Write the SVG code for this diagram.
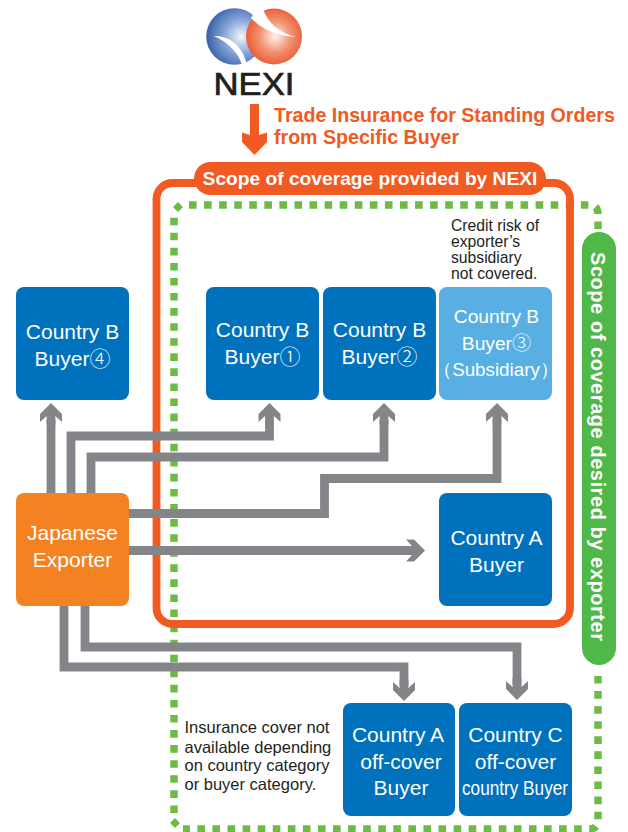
<svg xmlns="http://www.w3.org/2000/svg" width="628" height="832" viewBox="0 0 628 832">
<style>
text{font-family:"Liberation Sans",Arial,sans-serif}
.box{fill:#0071bc}
.t{fill:#fff;font-size:21px;text-anchor:middle}
.s{font-size:19.200px}
.c{font-family:"Noto Sans CJK JP","Liberation Sans",sans-serif;font-weight:300}
.g{fill:none;stroke:#848589;stroke-width:8.800}
.h{fill:#848589}
.n{fill:#231f20;font-size:16.500px}
.m{fill:#231f20;font-size:15.700px}
.o{fill:#f15a22;font-size:19.600px;font-weight:bold}
.d{fill:none;stroke:#6cbb45;stroke-width:7.500;stroke-dasharray:7.600 7.470}
</style>
<defs>
<radialGradient id="bl" cx="0.62" cy="0.5" r="0.6"><stop offset="0" stop-color="#f4f6fb"/><stop offset="0.55" stop-color="#7f9fd6"/><stop offset="1" stop-color="#3d64ab"/></radialGradient>
<radialGradient id="rd" cx="0.52" cy="0.5" r="0.58"><stop offset="0" stop-color="#fff3ec"/><stop offset="0.5" stop-color="#f2906e"/><stop offset="1" stop-color="#e8502a"/></radialGradient>
<path id="ah" class="h" d="M0 0L11 11V19L4.400 13V22H-4.400V13L-11 19V11Z"/>
</defs>
<g id="logo">
<circle cx="234.500" cy="36.500" r="28.300" fill="url(#bl)"/>
<path d="M214 36C228 36 241 43 247 64L242 65C238 52 228 42 214 36Z" fill="#fff"/>
<circle cx="274" cy="36.500" r="28" fill="url(#rd)"/>
<path d="M263 8C267 23 280 33 296 37C278 36 262 30 251 18C254 13 258 10 263 8Z" fill="#fff"/>
<text x="254" y="95" text-anchor="middle" font-size="31" textLength="81" lengthAdjust="spacingAndGlyphs" fill="#231f20" stroke="#231f20" stroke-width="0.700">NEXI</text>
</g>
<g id="nexi-arrow">
<path d="M250 104H259V135L267 132.500V142L254.500 155L242 142V132.500L250 135Z" fill="#f15a22"/>
<text class="o" x="274" y="122">Trade Insurance for Standing Orders</text>
<text class="o" x="274" y="144">from Specific Buyer</text>
</g>
<g id="scope-exporter">
<path class="d" d="M189 205H589Q598 205 598 214V232"/>
<path class="d" d="M598 676V820Q598 829 589 829H183"/>
<path class="d" d="M174 813V217"/>
<rect x="174.500" y="203.500" width="7" height="7" transform="rotate(45 178 207)" fill="#6cbb45"/>
<rect x="171.500" y="819.500" width="7" height="7" transform="rotate(45 175 823)" fill="#6cbb45"/>
<rect x="582" y="232" width="34" height="433" rx="17" fill="#4fb848"/>
<text transform="translate(590.500 252) rotate(90)" font-size="20" font-weight="bold" fill="#fff" textLength="389" lengthAdjust="spacing">Scope of coverage desired by exporter</text>
</g>
<g id="scope-nexi">
<rect x="156.500" y="183" width="413.500" height="441" rx="16" fill="none" stroke="#f15a22" stroke-width="7.800"/>
<rect x="194" y="162" width="352" height="33" rx="16.500" fill="#f15a22"/>
<text x="370" y="185" text-anchor="middle" font-size="19.200" font-weight="bold" fill="#fff">Scope of coverage provided by NEXI</text>
</g>
<g id="connectors">
<path class="g" d="M51 493V420"/><use href="#ah" transform="translate(51 403)"/>
<path class="g" d="M71 493V436H269.500V420"/><use href="#ah" transform="translate(269.500 403)"/>
<path class="g" d="M91 493V457H384V420"/><use href="#ah" transform="translate(384 403)"/>
<path class="g" d="M129 513.500H324.500V478.500H497V420"/><use href="#ah" transform="translate(497 403)"/>
<path class="g" d="M129 550.500H410"/><use href="#ah" transform="translate(425 550.500) rotate(90)"/>
<path class="g" d="M64 606V667H404V685"/><use href="#ah" transform="translate(404 701) rotate(180)"/>
<path class="g" d="M85 606V647H517V685"/><use href="#ah" transform="translate(517 700) rotate(180)"/>
</g>
<g id="buyer4"><rect class="box" x="16" y="287" width="113" height="113" rx="8"/><text class="t" x="72.500" y="339">Country B</text><text class="t" x="72.500" y="366">Buyer<tspan class="c">④</tspan></text></g>
<g id="buyer1"><rect class="box" x="206" y="287" width="113" height="113" rx="8"/><text class="t" x="262.500" y="337">Country B</text><text class="t" x="262.500" y="364">Buyer<tspan class="c">①</tspan></text></g>
<g id="buyer2"><rect class="box" x="323" y="287" width="113" height="113" rx="8"/><text class="t" x="379.500" y="337">Country B</text><text class="t" x="379.500" y="364">Buyer<tspan class="c">②</tspan></text></g>
<g id="buyer3"><rect x="439" y="287" width="113" height="113" rx="8" fill="#58afe3"/><text class="t s" x="496.500" y="323">Country B</text><text class="t s" x="496.500" y="350">Buyer<tspan class="c">③</tspan></text><text class="t" style="font-size:18.800px" x="496" y="376">（Subsidiary）</text></g>
<text class="m" x="451" y="231">Credit risk of</text>
<text class="m" x="451" y="247">exporter’s</text>
<text class="m" x="451" y="263">subsidiary</text>
<text class="m" x="451" y="279">not covered.</text>
<g id="exporter"><rect x="16" y="493" width="113" height="113" rx="8" fill="#f58220"/><text class="t" x="72.500" y="540">Japanese</text><text class="t" x="72.500" y="567">Exporter</text></g>
<g id="country-a"><rect class="box" x="439" y="493" width="113" height="113" rx="8"/><text class="t" x="496.500" y="545">Country A</text><text class="t" x="496.500" y="572">Buyer</text></g>
<g id="off-a"><rect class="box" x="343" y="703" width="112" height="113" rx="8"/><text class="t" x="398" y="742">Country A</text><text class="t" x="401" y="769">off-cover</text><text class="t" x="401" y="795">Buyer</text></g>
<g id="off-c"><rect class="box" x="459" y="703" width="113" height="113" rx="8"/><text class="t" x="515.500" y="742">Country C</text><text class="t" x="515.500" y="769">off-cover</text><text class="t" x="515" y="795" textLength="106" lengthAdjust="spacingAndGlyphs">country Buyer</text></g>
<text class="n" x="184.500" y="733">Insurance cover not</text>
<text class="n" x="184.500" y="752.500">available depending</text>
<text class="n" x="184.500" y="771">on country category</text>
<text class="n" x="184.500" y="790">or buyer category.</text>
</svg>
